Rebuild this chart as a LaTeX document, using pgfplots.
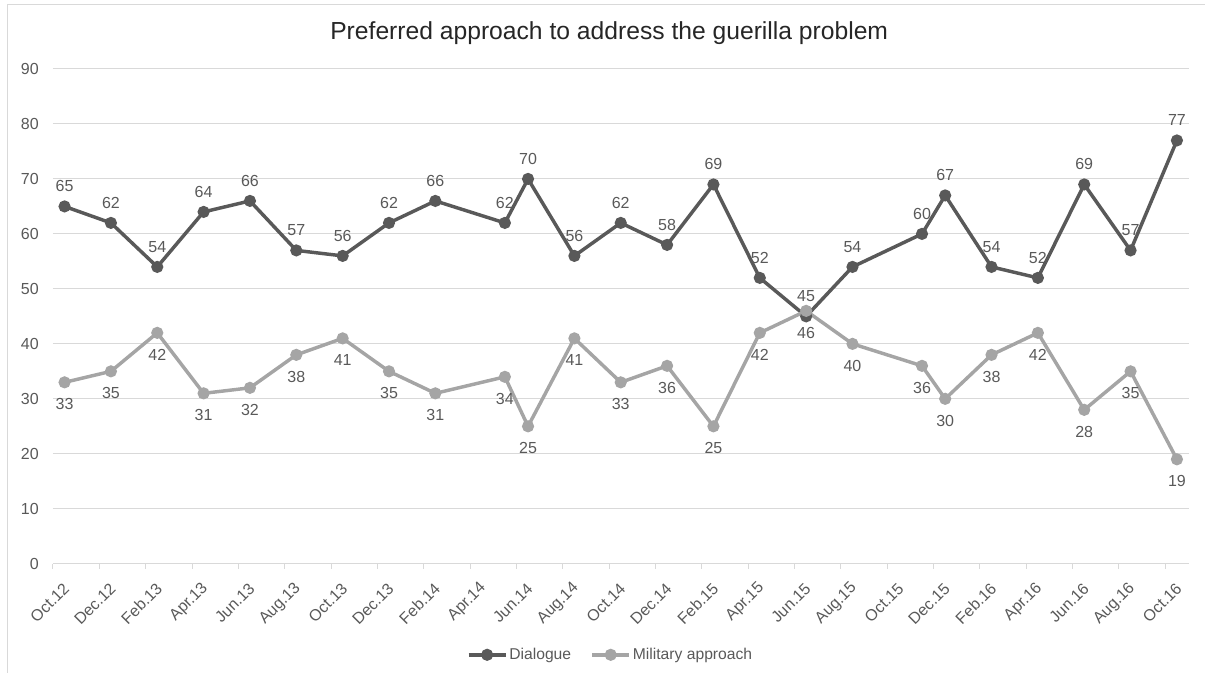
\documentclass[border=0pt]{standalone}
\usepackage{pgfplots}
\pgfplotsset{compat=1.18}
\usepackage{fontspec}
\setmainfont{Liberation Sans}
\definecolor{dlg}{HTML}{595959}
\definecolor{mil}{HTML}{A5A5A5}
\definecolor{gridc}{HTML}{D9D9D9}
\definecolor{txt}{HTML}{595959}
\begin{document}
\begin{tikzpicture}
\path (0,0) rectangle (903.75pt,504.75pt);
\draw[gridc, line width=0.75pt] (6pt,0) -- (6pt,501pt) -- (903.75pt,501pt);
\node[text=black!85, font=\fontsize{18.5}{22}\selectfont] at (457.1pt,480pt) {Preferred approach to address the guerilla problem};
\begin{axis}[
 at={(39.75pt,81.75pt)}, anchor=south west, scale only axis,
 width=852pt, height=371.25pt,
 xmin=-0.5, xmax=48.5, ymin=0, ymax=90,
 ytick={0,10,...,90},
 xtick={0,2,...,48},
 xticklabels={Oct.12,Dec.12,Feb.13,Apr.13,Jun.13,Aug.13,Oct.13,Dec.13,Feb.14,Apr.14,Jun.14,Aug.14,Oct.14,Dec.14,Feb.15,Apr.15,Jun.15,Aug.15,Oct.15,Dec.15,Feb.16,Apr.16,Jun.16,Aug.16,Oct.16},
 minor xtick={-0.5,1.5,3.5,5.5,7.5,9.5,11.5,13.5,15.5,17.5,19.5,21.5,23.5,25.5,27.5,29.5,31.5,33.5,35.5,37.5,39.5,41.5,43.5,45.5,47.5},
 xtick pos=bottom, ytick pos=left,
 tick align=outside, major tick length=0pt, minor tick length=3.75pt,
 xtick style={gridc, line width=0.75pt},
 ymajorgrids, grid style={gridc, line width=0.75pt},
 axis line style={draw=none},
 /pgf/number format/assume math mode=true,
 ticklabel style={font=\fontsize{12}{14}\selectfont, text=txt},
 xticklabel style={yshift=-16.5pt, xshift=1.5pt, rotate=45, anchor=east, inner sep=0pt},
 yticklabel style={anchor=east, inner sep=0pt, xshift=-10.5pt},
 clip=false,
 legend columns=2,
 legend style={at={(0.491,-0.184)}, anchor=center, draw=none, fill=none,
   font=\fontsize{11.75}{13}\selectfont, text=txt, inner sep=0pt,
   nodes={inner sep=1.5pt},
   /tikz/every even column/.append style={column sep=13pt}},
 legend image code/.code={\draw[mark repeat=2, mark phase=2] plot coordinates {(0pt,0pt)(13.9pt,0pt)(27.75pt,0pt)};},
 every node near coord/.append style={font=\fontsize{12}{14}\selectfont, text=txt, inner sep=0pt, anchor=center},
]
\addplot[dlg, line width=2.6pt, mark=*, mark size=3.2pt, mark options={solid},
  nodes near coords, every node near coord/.append style={yshift=15pt}]
 coordinates {(0,65)(2,62)(4,54)(6,64)(8,66)(10,57)(12,56)(14,62)(16,66)(19,62)(20,70)(22,56)(24,62)(26,58)(28,69)(30,52)(32,45)(34,54)(37,60)(38,67)(40,54)(42,52)(44,69)(46,57)(48,77)};
\addlegendentry{Dialogue}
\addplot[mil, line width=2.6pt, mark=*, mark size=3.2pt, mark options={solid},
  nodes near coords, every node near coord/.append style={yshift=-16.5pt}]
 coordinates {(0,33)(2,35)(4,42)(6,31)(8,32)(10,38)(12,41)(14,35)(16,31)(19,34)(20,25)(22,41)(24,33)(26,36)(28,25)(30,42)(32,46)(34,40)(37,36)(38,30)(40,38)(42,42)(44,28)(46,35)(48,19)};
\addlegendentry{Military approach}
\end{axis}
\end{tikzpicture}
\end{document}
